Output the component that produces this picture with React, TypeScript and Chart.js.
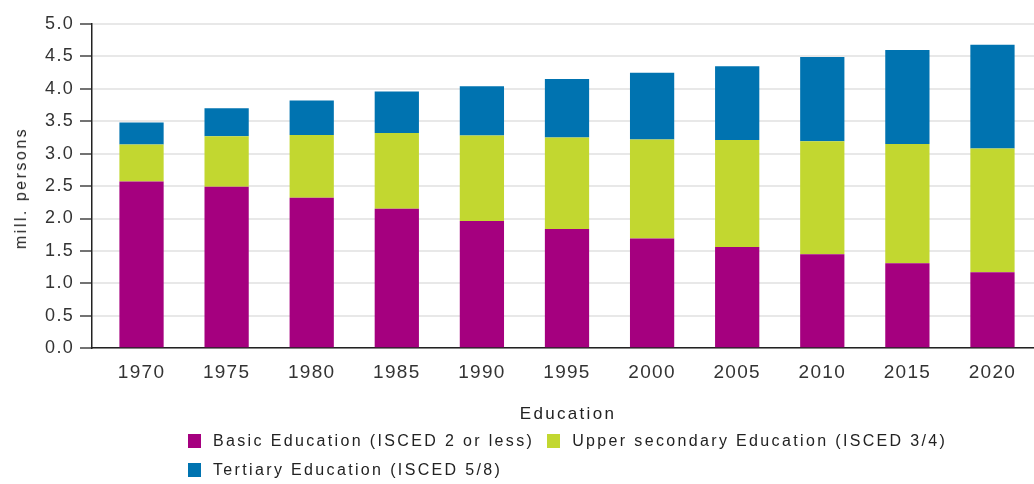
import { useEffect, useRef } from 'react';
import { Chart, registerables } from 'chart.js';

Chart.register(...registerables);

const YEARS = ['1970', '1975', '1980', '1985', '1990', '1995', '2000', '2005', '2010', '2015', '2020'];
const BASIC = [2.57, 2.49, 2.32, 2.15, 1.96, 1.84, 1.69, 1.56, 1.45, 1.31, 1.17];
const UPPER = [0.57, 0.78, 0.97, 1.17, 1.32, 1.41, 1.53, 1.65, 1.74, 1.84, 1.91];
const TERTIARY = [0.34, 0.43, 0.53, 0.64, 0.76, 0.9, 1.03, 1.14, 1.3, 1.45, 1.6];
const SERIES_NAMES = [
  'Basic Education (ISCED 2 or less)',
  'Upper secondary Education (ISCED 3/4)',
  'Tertiary Education (ISCED 5/8)',
];
const COLORS = ['#a5007f', '#c2d730', '#0073b0'];
const Y_TITLE = 'mill. persons';
const X_TITLE = 'Education';

const FONT = "'Liberation Sans', Arial, sans-serif";

const spacingPlugin = {
  id: 'letterSpacing',
  beforeLayout(chart: any) {
    chart.ctx.letterSpacing = '1.3px';
  },
  beforeDraw(chart: any) {
    chart.ctx.letterSpacing = '1.3px';
  },
};

export default function App() {
  const canvasRef = useRef<HTMLCanvasElement | null>(null);

  useEffect(() => {
    document.body.style.margin = '0';
    const canvas = canvasRef.current;
    if (!canvas) return;
    const series = [BASIC, UPPER, TERTIARY];
    const chart = new Chart(canvas, {
      type: 'bar',
      data: {
        datasets: series.map((vals, s) => ({
          label: SERIES_NAMES[s],
          data: vals.map((v, i) => ({ x: i, y: v })),
          backgroundColor: COLORS[s],
          borderWidth: 0,
          barPercentage: 0.52,
          categoryPercentage: 1,
        })),
      },
      plugins: [spacingPlugin],
      options: {
        animation: false,
        responsive: true,
        maintainAspectRatio: false,
        layout: { padding: { top: 24, left: 0, right: 0, bottom: 87 } },
        plugins: {
          legend: { display: false },
          tooltip: { enabled: false },
        },
        scales: {
          x: {
            type: 'linear',
            stacked: true,
            offset: false,
            min: -0.582,
            max: 10.488,
            grid: { display: false, drawTicks: false },
            border: { display: true, color: '#222', width: 1.5 },
            ticks: {
              stepSize: 1,
              includeBounds: false,
              autoSkip: false,
              maxRotation: 0,
              padding: 13,
              color: '#333',
              font: { family: FONT, size: 19 },
              callback: (v: any) => (YEARS[v as number] ?? ''),
            },
          },
          y: {
            stacked: true,
            min: 0,
            max: 5,
            afterFit: (scale: any) => {
              scale.width = 92;
            },
            grid: {
              color: '#e8e8e8',
              lineWidth: 2,
              tickColor: '#444',
              tickWidth: 1.5,
              tickLength: 12,
            },
            border: { display: true, color: '#222', width: 1.5 },
            ticks: {
              stepSize: 0.5,
              padding: 6,
              color: '#333',
              font: { family: FONT, size: 18 },
              callback: (v: any) => Number(v).toFixed(1),
            },
          },
        },
      },
    });
    return () => chart.destroy();
  }, []);

  const textStyle = {
    fontFamily: FONT,
    color: '#222',
    whiteSpace: 'nowrap' as const,
  };

  return (
    <div style={{ position: 'relative', width: 1034, height: 484, overflow: 'hidden' }}>
      <canvas ref={canvasRef} />
      <div
        style={{
          ...textStyle,
          position: 'absolute',
          left: 20.5,
          top: 188,
          fontSize: 16,
          letterSpacing: '2.5px',
          transform: 'translate(-50%, -50%) rotate(-90deg)',
          lineHeight: '16px',
        }}
      >
        {Y_TITLE}
      </div>
      <div
        style={{
          ...textStyle,
          position: 'absolute',
          left: 568,
          top: 413,
          fontSize: 17,
          letterSpacing: '2.3px',
          transform: 'translate(-50%, -50%)',
          lineHeight: '17px',
        }}
      >
        {X_TITLE}
      </div>
      <div
        style={{
          position: 'absolute',
          left: 188,
          top: 430,
          width: 790,
          display: 'flex',
          flexWrap: 'wrap',
          columnGap: 13,
          rowGap: 7,
        }}
      >
        {SERIES_NAMES.map((name, s) => (
          <div key={name} style={{ display: 'flex', alignItems: 'center', height: 22 }}>
            <span
              style={{
                display: 'inline-block',
                width: 13,
                height: 14,
                background: COLORS[s],
                marginRight: 12,
              }}
            />
            <span style={{ ...textStyle, fontSize: 16, letterSpacing: '2.35px' }}>{name}</span>
          </div>
        ))}
      </div>
    </div>
  );
}
